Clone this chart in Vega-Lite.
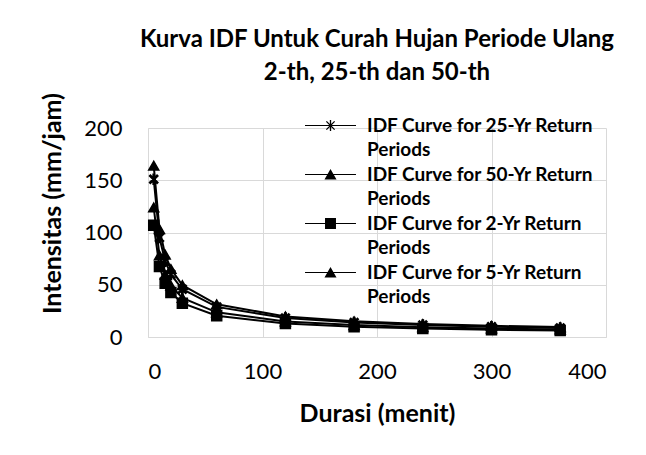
{
  "$schema": "https://vega.github.io/schema/vega-lite/v6.json",
  "width": 458,
  "height": 209,
  "autosize": "none",
  "padding": {"left": 148, "top": 128, "right": 40, "bottom": 118},
  "background": "white",
  "config": {
    "font": "Lato",
    "view": {"stroke": null},
    "style": {"guide-label": {"lineHeight": 24.5}},
    "axis": {
      "grid": true,
      "gridColor": "#d9d9d9",
      "gridWidth": 1,
      "domainColor": "#d9d9d9",
      "domainWidth": 1,
      "ticks": false,
      "labelFont": "Lato",
      "labelFontSize": 22,
      "labelColor": "#000000",
      "titleFont": "Lato",
      "titleFontSize": 25,
      "titleFontWeight": "bold",
      "titleColor": "#000000"
    },
    "legend": {
      "padding": 0,
      "rowPadding": 5,
      "labelFont": "Lato",
      "labelFontSize": 19,
      "labelFontWeight": "bold",
      "labelColor": "#000000",
      "labelLimit": 400
    }
  },
  "title": {
    "text": ["Kurva IDF Untuk Curah Hujan Periode Ulang", "2-th, 25-th dan 50-th"],
    "font": "Lato",
    "fontSize": 24,
    "fontWeight": "bold",
    "lineHeight": 33,
    "color": "#000000",
    "offset": 8
  },
  "data": {
    "values": [
      {"series": "IDF Curve for 25-Yr Return Periods", "durasi": 5, "intensitas": 151},
      {"series": "IDF Curve for 25-Yr Return Periods", "durasi": 10, "intensitas": 95.1},
      {"series": "IDF Curve for 25-Yr Return Periods", "durasi": 15, "intensitas": 72.6},
      {"series": "IDF Curve for 25-Yr Return Periods", "durasi": 20, "intensitas": 59.9},
      {"series": "IDF Curve for 25-Yr Return Periods", "durasi": 30, "intensitas": 45.7},
      {"series": "IDF Curve for 25-Yr Return Periods", "durasi": 60, "intensitas": 28.8},
      {"series": "IDF Curve for 25-Yr Return Periods", "durasi": 120, "intensitas": 18.1},
      {"series": "IDF Curve for 25-Yr Return Periods", "durasi": 180, "intensitas": 13.8},
      {"series": "IDF Curve for 25-Yr Return Periods", "durasi": 240, "intensitas": 11.4},
      {"series": "IDF Curve for 25-Yr Return Periods", "durasi": 300, "intensitas": 9.9},
      {"series": "IDF Curve for 25-Yr Return Periods", "durasi": 360, "intensitas": 8.7},
      {"series": "IDF Curve for 50-Yr Return Periods", "durasi": 5, "intensitas": 164},
      {"series": "IDF Curve for 50-Yr Return Periods", "durasi": 10, "intensitas": 103.3},
      {"series": "IDF Curve for 50-Yr Return Periods", "durasi": 15, "intensitas": 78.8},
      {"series": "IDF Curve for 50-Yr Return Periods", "durasi": 20, "intensitas": 65.1},
      {"series": "IDF Curve for 50-Yr Return Periods", "durasi": 30, "intensitas": 49.6},
      {"series": "IDF Curve for 50-Yr Return Periods", "durasi": 60, "intensitas": 31.3},
      {"series": "IDF Curve for 50-Yr Return Periods", "durasi": 120, "intensitas": 19.7},
      {"series": "IDF Curve for 50-Yr Return Periods", "durasi": 180, "intensitas": 15.0},
      {"series": "IDF Curve for 50-Yr Return Periods", "durasi": 240, "intensitas": 12.4},
      {"series": "IDF Curve for 50-Yr Return Periods", "durasi": 300, "intensitas": 10.7},
      {"series": "IDF Curve for 50-Yr Return Periods", "durasi": 360, "intensitas": 9.5},
      {"series": "IDF Curve for 2-Yr Return Periods", "durasi": 5, "intensitas": 107},
      {"series": "IDF Curve for 2-Yr Return Periods", "durasi": 10, "intensitas": 67.4},
      {"series": "IDF Curve for 2-Yr Return Periods", "durasi": 15, "intensitas": 51.4},
      {"series": "IDF Curve for 2-Yr Return Periods", "durasi": 20, "intensitas": 42.5},
      {"series": "IDF Curve for 2-Yr Return Periods", "durasi": 30, "intensitas": 32.4},
      {"series": "IDF Curve for 2-Yr Return Periods", "durasi": 60, "intensitas": 20.4},
      {"series": "IDF Curve for 2-Yr Return Periods", "durasi": 120, "intensitas": 12.9},
      {"series": "IDF Curve for 2-Yr Return Periods", "durasi": 180, "intensitas": 9.8},
      {"series": "IDF Curve for 2-Yr Return Periods", "durasi": 240, "intensitas": 8.1},
      {"series": "IDF Curve for 2-Yr Return Periods", "durasi": 300, "intensitas": 7.0},
      {"series": "IDF Curve for 2-Yr Return Periods", "durasi": 360, "intensitas": 6.2},
      {"series": "IDF Curve for 5-Yr Return Periods", "durasi": 5, "intensitas": 124},
      {"series": "IDF Curve for 5-Yr Return Periods", "durasi": 10, "intensitas": 78.1},
      {"series": "IDF Curve for 5-Yr Return Periods", "durasi": 15, "intensitas": 59.6},
      {"series": "IDF Curve for 5-Yr Return Periods", "durasi": 20, "intensitas": 49.2},
      {"series": "IDF Curve for 5-Yr Return Periods", "durasi": 30, "intensitas": 37.5},
      {"series": "IDF Curve for 5-Yr Return Periods", "durasi": 60, "intensitas": 23.6},
      {"series": "IDF Curve for 5-Yr Return Periods", "durasi": 120, "intensitas": 14.9},
      {"series": "IDF Curve for 5-Yr Return Periods", "durasi": 180, "intensitas": 11.4},
      {"series": "IDF Curve for 5-Yr Return Periods", "durasi": 240, "intensitas": 9.4},
      {"series": "IDF Curve for 5-Yr Return Periods", "durasi": 300, "intensitas": 8.1},
      {"series": "IDF Curve for 5-Yr Return Periods", "durasi": 360, "intensitas": 7.2}
    ]
  },
  "encoding": {
    "x": {
      "field": "durasi",
      "type": "quantitative",
      "title": "Durasi (menit)",
      "scale": {"domain": [0, 400], "nice": false},
      "axis": {"values": [0, 100, 200, 300, 400], "labelPadding": 24, "titleY": 76, "titleBaseline": "middle"}
    },
    "y": {
      "field": "intensitas",
      "type": "quantitative",
      "title": "Intensitas (mm/jam)",
      "scale": {"domain": [0, 200], "nice": false},
      "axis": {"values": [0, 50, 100, 150, 200], "labelPadding": 26, "titleX": -96, "titleY": 75, "titleBaseline": "middle", "titleAngle": 270}
    }
  },
  "layer": [
    {
      "mark": {"type": "line", "strokeWidth": 2},
      "encoding": {
        "color": {
          "field": "series",
          "type": "nominal",
          "scale": {
            "domain": ["IDF Curve for 5-Yr Return Periods", "IDF Curve for 2-Yr Return Periods", "IDF Curve for 50-Yr Return Periods", "IDF Curve for 25-Yr Return Periods"],
            "range": ["#000000", "#000000", "#000000", "#000000"]
          },
          "legend": null
        }
      }
    },
    {
      "mark": {"type": "point", "filled": true, "fill": "#000000", "stroke": "#000000", "strokeWidth": 1.5, "size": 100, "opacity": 1},
      "encoding": {
        "shape": {
          "field": "series",
          "type": "nominal",
          "scale": {
            "domain": ["IDF Curve for 25-Yr Return Periods", "IDF Curve for 50-Yr Return Periods", "IDF Curve for 2-Yr Return Periods", "IDF Curve for 5-Yr Return Periods"],
            "range": ["M-0.12,-1L0.12,-1L0.12,1L-0.12,1ZM-0.665,-0.835L0.835,0.665L0.665,0.835L-0.835,-0.665ZM-0.665,0.835L-0.835,0.665L0.665,-0.835L0.835,-0.665Z", "triangle-up", "square", "triangle-up"]
          },
          "legend": null
        }
      }
    },
    {
      "mark": {"type": "point", "filled": true, "fill": "#000000", "size": 120, "opacity": 0},
      "encoding": {
        "shape": {
          "field": "series",
          "type": "nominal",
          "scale": {
            "domain": ["IDF Curve for 25-Yr Return Periods", "IDF Curve for 50-Yr Return Periods", "IDF Curve for 2-Yr Return Periods", "IDF Curve for 5-Yr Return Periods"],
            "range": [
              "M-4.65,-0.11L4.65,-0.11L4.65,0.11L-4.65,0.11ZM-0.12,-1L0.12,-1L0.12,1L-0.12,1ZM-0.665,-0.835L0.835,0.665L0.665,0.835L-0.835,-0.665ZM-0.665,0.835L-0.835,0.665L0.665,-0.835L0.835,-0.665Z",
              "M-4.65,-0.11L4.65,-0.11L4.65,0.11L-4.65,0.11ZM0,-1L1.1,0.9L-1.1,0.9Z",
              "M-4.65,-0.11L4.65,-0.11L4.65,0.11L-4.65,0.11ZM-1,-1L1,-1L1,1L-1,1Z",
              "M-4.65,-0.11L4.65,-0.11L4.65,0.11L-4.65,0.11ZM0,-1L1.1,0.9L-1.1,0.9Z"
            ]
          },
          "legend": {
            "title": null,
            "orient": "none",
            "legendX": 173,
            "legendY": -12,
            "symbolSize": 120,
            "symbolOpacity": 1,
            "symbolFillColor": "#000000",
            "symbolStrokeColor": "#000000",
            "symbolStrokeWidth": 0.8,
            "labelExpr": "[replace(datum.label, ' Periods', ''), 'Periods']",
            "labelOffset": 27,
            "encode": {
              "symbols": {"update": {
                "stroke": {"value": "#000000"},
                "strokeWidth": {"value": 0.8},
                "fill": {"value": "#000000"},
                "opacity": {"value": 1}
              }},
              "labels": {"update": {"dy": {"value": 12.25}, "lineHeight": {"value": 24.5}}}
            }
          }
        }
      }
    }
  ],
  "resolve": {"scale": {"shape": "independent"}, "legend": {"shape": "independent"}}
}
